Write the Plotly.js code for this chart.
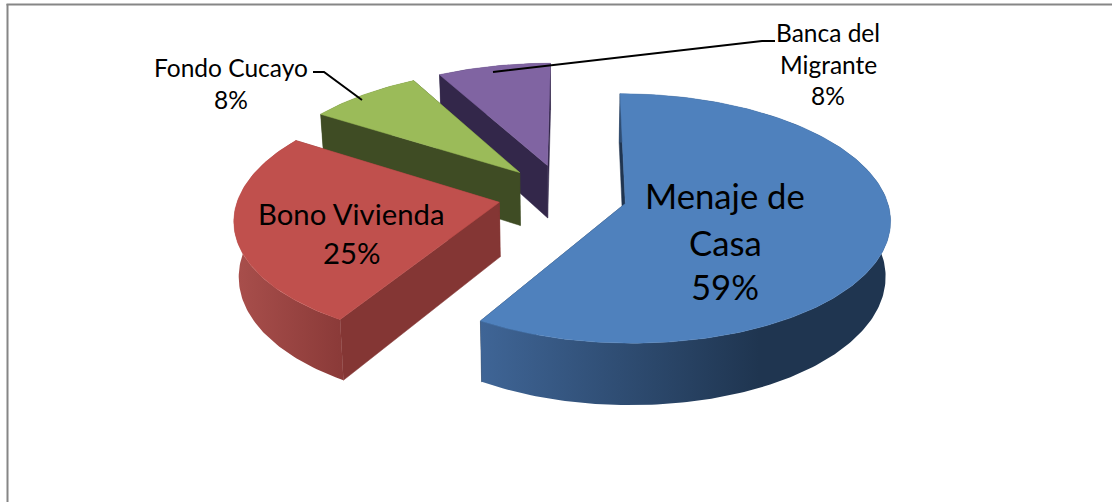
<!DOCTYPE html>
<html>
<head>
<meta charset="utf-8">
<script src="https://cdn.plot.ly/plotly-3.0.1.min.js"></script>
<style>html,body{margin:0;padding:0;background:#fff}#chart{width:1112px;height:502px}</style>
</head>
<body>
<div id="chart"></div>
<script>
// Data
const categories = ["Menaje de Casa", "Bono Vivienda", "Fondo Cucayo", "Banca del Migrante"];
const shares = [58.6, 25.4, 8, 8];

// Slice colours: top face, start wall, arc wall gradient (left, right)
const topColors = ["#4f81bd", "#c0504d", "#9bbb59", "#8064a2"];
const wallColors = ["#203550", "#843634", "#3f4c24", "#33274a"];
const arcLeft = ["#3f6596", "#a94f4c", "#3f4c24", "#33274a"];
const arcRight = ["#1f3550", "#8a3a38", "#3f4c24", "#33274a"];
const arcStop = [0.68, 1, 1, 1];

// Perspective model of the tilted, exploded 3D pie
const VX = 576, VY = -822, F = 2190, H = 8553, DEPTH = 455, SHRINK = 0.015, XC = 560;
const OX = -0.0512, W0 = 8.41, PULL_X = 0.248, PULL_W = 0.26;

function project(X, w, lower) {
  let sx = VX + F * X / w, sy = VY + H / w;
  if (lower) { sy += DEPTH / w; sx += (XC - sx) * SHRINK; }
  return [sx, sy];
}

const total = shares.reduce((a, b) => a + b, 0);
const traces = [];
const slices = [];
let acc = 0;
shares.forEach((v, i) => {
  const a0 = acc / total * 2 * Math.PI;
  acc += v;
  const a1 = acc / total * 2 * Math.PI;
  slices.push({ i, a0, a1 });
});

function poly(pts, color, gradient) {
  const t = {
    x: pts.map(p => p[0]).concat([pts[0][0]]),
    y: pts.map(p => p[1]).concat([pts[0][1]]),
    mode: "lines", fill: "toself", line: { width: 0.5, color: color },
    fillcolor: color, hoverinfo: "skip", showlegend: false
  };
  if (gradient) { t.fillgradient = gradient; t.line = { width: 0 }; }
  traces.push(t);
}

// paint from the back slice to the front slice
[3, 2, 1, 0].forEach(idx => {
  const s = slices[idx];
  const mid = (s.a0 + s.a1) / 2;
  const cx = OX + PULL_X * Math.sin(mid), cw = W0 + PULL_W * Math.cos(mid);
  const P = (a, lower) => project(cx + Math.sin(a), cw + Math.cos(a), lower);
  const C = lower => project(cx, cw, lower);
  const n = Math.max(4, Math.round((s.a1 - s.a0) / (Math.PI / 180)));
  const topArc = [], botArc = [];
  for (let k = 0; k <= n; k++) {
    const a = s.a0 + (s.a1 - s.a0) * k / n;
    topArc.push(P(a, false));
    botArc.push(P(a, true));
  }
  // edge walls
  poly([C(false), P(s.a1, false), P(s.a1, true), C(true)], wallColors[idx]);
  poly([C(false), P(s.a0, false), P(s.a0, true), C(true)], wallColors[idx]);
  // outer wall
  poly(topArc.concat(botArc.slice().reverse()), arcRight[idx], {
    type: "horizontal",
    colorscale: [[0, arcLeft[idx]], [arcStop[idx], arcRight[idx]], [1, arcRight[idx]]]
  });
  // top face
  poly([C(false)].concat(topArc), topColors[idx]);
});

// Leader lines
const leaderA = { x: [313, 324, 362], y: [72, 72, 100] };
const leaderB = { x: [775, 762, 493], y: [41, 41, 72] };
[leaderA, leaderB].forEach(l => traces.push({
  x: l.x, y: l.y, mode: "lines", line: { color: "#000", width: 2 },
  hoverinfo: "skip", showlegend: false
}));

const pct = i => Math.round(shares[i]) + "%";
const fontName = "Lato, 'Open Sans', sans-serif";
const labelBlocks = [
  { lines: ["Menaje de", "Casa", pct(0)], x: 725, ys: [195, 242, 286], size: 34.7 },
  { lines: ["Bono Vivienda", pct(1)], x: 351, ys: [213, 252], size: 29.3 },
  { lines: ["Fondo Cucayo", pct(2)], x: 231, ys: [67, 99], size: 24.5 },
  { lines: ["Banca del", "Migrante", pct(3)], x: 828, ys: [32, 64, 95], size: 24.5 }
];
const annotations = [];
labelBlocks.forEach(b => b.lines.forEach((t, k) => annotations.push({
  x: b.x, y: b.ys[k], xref: "x", yref: "y", text: t, showarrow: false,
  xanchor: "center", yanchor: "middle",
  font: { family: fontName, size: b.size, color: "#000" }
})));

const layout = {
  width: 1112, height: 502,
  margin: { l: 0, r: 0, t: 0, b: 0 },
  paper_bgcolor: "#fff", plot_bgcolor: "#fff",
  xaxis: { range: [0, 1112], visible: false, fixedrange: true },
  yaxis: { range: [502, 0], visible: false, fixedrange: true },
  showlegend: false,
  annotations: annotations,
  shapes: [
    { type: "line", xref: "x", yref: "y", x0: 7.5, x1: 7.5, y0: 4, y1: 502, line: { color: "#868686", width: 2 } },
    { type: "line", xref: "x", yref: "y", x0: 6.5, x1: 1112, y0: 4.5, y1: 4.5, line: { color: "#868686", width: 2 } }
  ]
};
Plotly.newPlot("chart", traces, layout, { displayModeBar: false, staticPlot: true });
</script>
</body>
</html>
